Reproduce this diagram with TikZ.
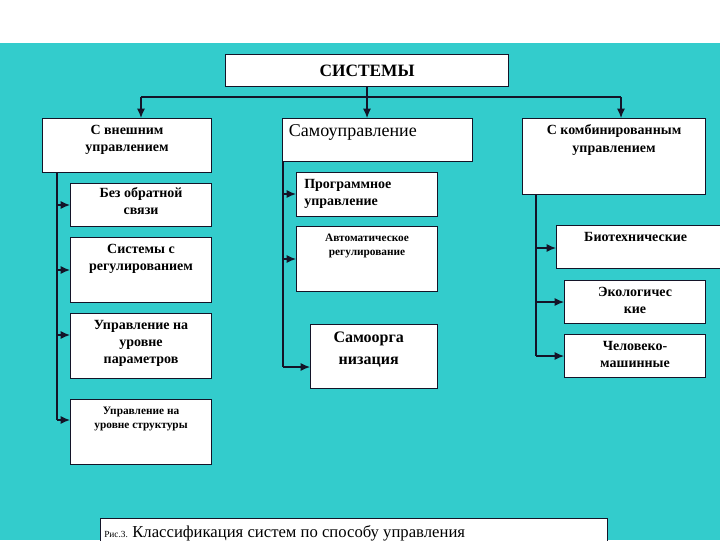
\documentclass[tikz,border=0pt]{standalone}
\usepackage{fontspec}
\setmainfont{Liberation Serif}
\usetikzlibrary{arrows.meta}
\definecolor{teal1}{RGB}{51,204,204}
\definecolor{ln}{RGB}{20,20,40}
\tikzset{
  box/.style={draw=ln, line width=0.8pt, fill=white, anchor=north west, inner sep=0pt},
  lbl/.style={anchor=north, align=center, inner sep=0pt, font=\bfseries\fontsize{10.5}{13}\selectfont},
  arr/.style={draw=ln, line width=0.9pt, -{Latex[length=7pt,width=6pt]}},
  ln/.style={draw=ln, line width=0.9pt}
}
\newcommand{\bx}[6]{%
  \node[box, minimum width={(#4-#2)*0.75pt}, minimum height={(#5-#3)*0.75pt}] (#1) at (#2,#3) {};}
\begin{document}
\begin{tikzpicture}[x=0.75pt,y=-0.75pt]
\useasboundingbox (0,0) rectangle (720,540);
\clip (0,0) rectangle (720,540);
\fill[white] (0,0) rectangle (720,43);
\fill[teal1] (0,43) rectangle (720,540);
% boxes
\bx{sys}{225}{54}{508}{86}{}
\node[anchor=center, inner sep=0pt, font=\bfseries\fontsize{13}{14}\selectfont] (syst) at (sys.center) {СИСТЕМЫ};
\bx{ext}{42}{118}{211}{172}{}
\node[lbl] (extt) at ([yshift=-5pt]ext.north) {С внешним\\управлением};
\bx{self}{282}{118}{472}{161}{}
\node[anchor=north west, inner sep=0pt, font=\fontsize{13.5}{15}\selectfont] (selft) at ([xshift=5pt,yshift=-5pt]self.north west) {Самоуправление};
\bx{comb}{522}{118}{705}{194}{}
\node[lbl] (combt) at ([yshift=-5pt]comb.north) {С комбинированным\\управлением};
% left
\bx{l1}{70}{183}{211}{226}{}
\node[lbl] (l1t) at ([yshift=-3pt]l1.north) {Без обратной\\связи};
\bx{l2}{70}{237}{211}{302}{}
\node[lbl] (l2t) at ([yshift=-5pt]l2.north) {Системы с\\регулированием};
\bx{l3}{70}{313}{211}{378}{}
\node[lbl] (l3t) at ([yshift=-5pt]l3.north) {Управление на\\уровне\\параметров};
\bx{l4}{70}{399}{211}{464}{}
\node[lbl, font=\bfseries\fontsize{8.5}{10.5}\selectfont] (l4t) at ([yshift=-6pt]l4.north) {Управление на\\уровне структуры};
% middle
\bx{m1}{296}{172}{437}{216}{}
\node[lbl, anchor=north west, align=left] (m1t) at ([xshift=6pt,yshift=-5pt]m1.north west) {Программное\\управление};
\bx{m2}{296}{226}{437}{291}{}
\node[lbl, font=\bfseries\fontsize{8.5}{10.5}\selectfont] (m2t) at ([yshift=-6pt]m2.north) {Автоматическое\\регулирование};
\bx{m3}{310}{324}{437}{388}{}
\node[lbl, font=\bfseries\fontsize{12}{16}\selectfont] (m3t) at ([xshift=-4pt,yshift=-6pt]m3.north) {Самоорга\\низация};
% right
\bx{r1}{556}{225}{725}{268}{}
\node[lbl] (r1t) at ([xshift=-4pt,yshift=-5pt]r1.north) {Биотехнические};
\bx{r2}{564}{280}{705}{323}{}
\node[lbl] (r2t) at ([yshift=-5pt]r2.north) {Экологичес\\кие};
\bx{r3}{564}{334}{705}{377}{}
\node[lbl] (r3t) at ([yshift=-5pt]r3.north) {Человеко-\\машинные};
% caption
\bx{cap}{100}{518}{607}{560}{}
\node[anchor=west, inner sep=0pt] (capt) at (104,533) {{\fontsize{7}{8}\selectfont Рис.3.} {\fontsize{12.5}{14}\selectfont Классификация систем по способу управления}};
% top connectors
\coordinate (hl) at (141,97);
\coordinate (hr) at (621,97);
\draw[ln] (hl) -- (hr);
\draw[arr] (sys.south) -- (self.north -| sys.south);
\draw[arr] (hl) -- (hl |- ext.north);
\draw[arr] (hr) -- (hr |- comb.north);
% left tree
\coordinate (lt) at (57,172);
\draw[ln] (lt) -- (57,420);
\foreach \b/\y in {l1/205,l2/270,l3/335,l4/420}
  \draw[arr] (57,\y) -- (\b.west |- 0,\y);
% middle tree
\coordinate (mt) at (283,161);
\draw[ln] (mt) -- (283,367);
\foreach \b/\y in {m1/194,m2/259,m3/367}
  \draw[arr] (283,\y) -- (\b.west |- 0,\y);
% right tree
\coordinate (rt) at (536,194);
\draw[ln] (rt) -- (536,356);
\foreach \b/\y in {r1/248,r2/302,r3/356}
  \draw[arr] (536,\y) -- (\b.west |- 0,\y);
\end{tikzpicture}
\end{document}
